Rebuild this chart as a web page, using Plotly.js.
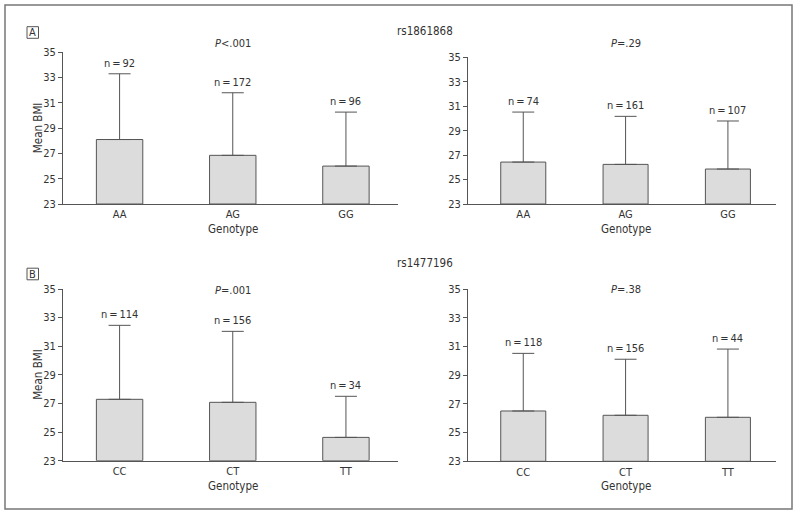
<!DOCTYPE html>
<html>
<head>
<meta charset="utf-8">
<script src="https://cdn.plot.ly/plotly-3.0.1.min.js"></script>
<style>html,body{margin:0;padding:0;background:#fff;}#chart{width:800px;height:514px;}</style>
</head>
<body>
<div id="chart"></div>
<script>
// ---- data ----
const genotypesA = ["AA", "AG", "GG"];
const genotypesB = ["CC", "CT", "TT"];
const snpA = "rs1861868";
const snpB = "rs1477196";

const meanA1 = [28.1, 26.85, 26.0];
const upperA1 = [33.3, 31.8, 30.27];
const nA1 = [92, 172, 96];
const pA1 = "<i>P</i>&lt;.001";

const meanA2 = [26.43, 26.24, 25.86];
const upperA2 = [30.52, 30.17, 29.79];
const nA2 = [74, 161, 107];
const pA2 = "<i>P</i>=.29";

const meanB1 = [27.29, 27.08, 24.63];
const upperB1 = [32.46, 32.04, 27.5];
const nB1 = [114, 156, 34];
const pB1 = "<i>P</i>=.001";

const meanB2 = [26.51, 26.21, 26.07];
const upperB2 = [30.53, 30.12, 30.83];
const nB2 = [118, 156, 44];
const pB2 = "<i>P</i>=.38";

const yTicks = [23, 25, 27, 29, 31, 33, 35];
const yRange = [23, 35];

// ---- layout helpers ----
const W = 800, H = 514;
const FONT = "'Liberation Sans Narrow', 'DejaVu Sans Condensed', 'Arial Narrow', sans-serif";
const TXT = "#333";
const px = v => v / W;
const py = v => 1 - v / H;

const panels = [
  {cats: genotypesA, mean: meanA1, upper: upperA1, n: nA1, p: pA1, xd: [63, 398], yd: [52.3, 204], xr: [-0.5, 2.46], bw: 0.41, ytitle: true, pY: 43, gY: 220.5},
  {cats: genotypesA, mean: meanA2, upper: upperA2, n: nA2, p: pA2, xd: [468, 776], yd: [57.3, 204], xr: [-0.54, 2.47], bw: 0.44, ytitle: false, pY: 43, gY: 220.5},
  {cats: genotypesB, mean: meanB1, upper: upperB1, n: nB1, p: pB1, xd: [63, 398], yd: [289, 460.7], xr: [-0.5, 2.46], bw: 0.41, ytitle: true, pY: 290, gY: 477.5},
  {cats: genotypesB, mean: meanB2, upper: upperB2, n: nB2, p: pB2, xd: [468, 776], yd: [289.3, 461.3], xr: [-0.54, 2.47], bw: 0.44, ytitle: false, pY: 289, gY: 477.5}
];

const traces = [];
const layout = {
  width: W, height: H,
  margin: {l: 0, r: 0, t: 0, b: 0},
  paper_bgcolor: "#fff", plot_bgcolor: "rgba(0,0,0,0)",
  showlegend: false,
  font: {family: FONT, size: 11, color: TXT},
  annotations: [], shapes: []
};

panels.forEach((pn, i) => {
  const k = i === 0 ? "" : String(i + 1);
  traces.push({
    type: "bar",
    x: pn.cats, y: pn.mean.map(v => v - yRange[0]), base: yRange[0],
    width: pn.bw,
    xaxis: "x" + k, yaxis: "y" + k,
    marker: {color: "#dcdcdc", line: {color: "#555", width: 1}},
    error_y: {type: "data", symmetric: false,
      array: pn.upper.map((u, j) => u - pn.mean[j]),
      arrayminus: pn.mean.map(() => 0),
      color: "#555", thickness: 1, width: 11},
    hoverinfo: "skip"
  });
  layout["xaxis" + k] = {
    domain: [px(pn.xd[0]), px(pn.xd[1])], anchor: "y" + k,
    range: pn.xr, type: "category",
    showline: true, linecolor: "#555", linewidth: 1,
    showgrid: false, zeroline: false, ticks: "",
    tickfont: {family: FONT, size: 11, color: TXT}
  };
  layout["yaxis" + k] = {
    domain: [py(pn.yd[1]), py(pn.yd[0])], anchor: "x" + k,
    range: yRange, tickvals: yTicks,
    showline: true, linecolor: "#555", linewidth: 1,
    showgrid: false, zeroline: false,
    ticks: "outside", ticklen: 4, tickcolor: "#555",
    tickfont: {family: FONT, size: 11, color: TXT}
  };
  // n labels
  pn.cats.forEach((c, j) => {
    layout.annotations.push({
      xref: "x" + k, yref: "y" + k, x: c, y: pn.upper[j],
      text: "n\u2009=\u2009" + pn.n[j], showarrow: false,
      yanchor: "bottom", yshift: 2,
      font: {family: FONT, size: 11, color: TXT}
    });
  });
  // P label
  layout.annotations.push({
    xref: "x" + k, yref: "paper", x: pn.cats[1], y: py(pn.pY),
    text: pn.p, showarrow: false, yanchor: "middle",
    font: {family: FONT, size: 11, color: TXT}
  });
  // Genotype title
  layout.annotations.push({
    xref: "x" + k, yref: "paper", x: pn.cats[1], y: py(pn.gY),
    text: "Genotype", showarrow: false, yanchor: "top", borderpad: 0,
    font: {family: FONT, size: 11.5, color: TXT}
  });
  if (pn.ytitle) {
    layout.annotations.push({
      xref: "paper", yref: "paper", x: px(38), y: py((pn.yd[0] + pn.yd[1]) / 2),
      text: "Mean BMI", showarrow: false, textangle: -90,
      xanchor: "center", yanchor: "middle",
      font: {family: FONT, size: 11.5, color: TXT}
    });
  }
});

// SNP headings
layout.annotations.push({xref: "paper", yref: "paper", x: px(425), y: py(31), text: snpA, showarrow: false, yanchor: "middle", font: {family: FONT, size: 11.5, color: TXT}});
layout.annotations.push({xref: "paper", yref: "paper", x: px(425), y: py(263), text: snpB, showarrow: false, yanchor: "middle", font: {family: FONT, size: 11.5, color: TXT}});

// Panel letters
[["A", 32.5], ["B", 274]].forEach(([L, cy]) => {
  layout.shapes.push({type: "rect", xref: "paper", yref: "paper",
    x0: px(27), x1: px(38.5), y0: py(cy - 5.8), y1: py(cy + 5.8),
    line: {color: "#555", width: 1}, fillcolor: "rgba(0,0,0,0)"});
  layout.annotations.push({xref: "paper", yref: "paper", x: px(32.8), y: py(cy), text: L, showarrow: false,
    xanchor: "center", yanchor: "middle", font: {family: FONT, size: 11, color: TXT}});
});

// Outer frame
layout.shapes.push({type: "rect", xref: "paper", yref: "paper",
  x0: px(5), x1: px(792), y0: py(509), y1: py(5),
  line: {color: "#777", width: 1.5}, fillcolor: "rgba(0,0,0,0)"});

Plotly.newPlot("chart", traces, layout, {displayModeBar: false, staticPlot: true});
</script>
</body>
</html>
